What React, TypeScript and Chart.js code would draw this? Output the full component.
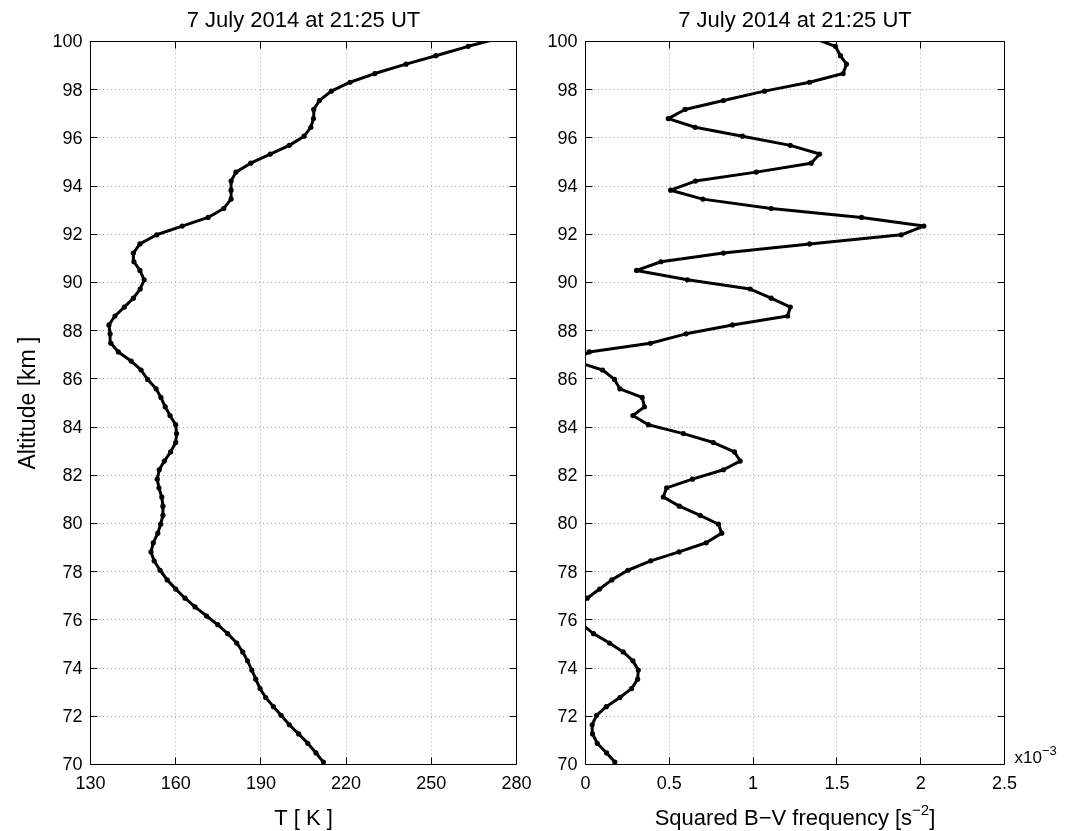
import React, { useEffect, useRef } from 'react';
import { Chart, registerables } from 'chart.js';

Chart.register(...registerables);

const W = 1081;
const H = 831;
const FONT = '"Liberation Sans", Arial, Helvetica, sans-serif';

// ---- text ----
const titleText = '7 July 2014 at 21:25 UT';
const yAxisLabel = 'Altitude [km ]';
const tempAxisLabel = 'T [ K ]';
const bvAxisMain = 'Squared B\u2212V frequency [s';
const bvAxisSup = '\u22122';
const bvAxisTail = ']';
const bvExpBase = 'x10';
const bvExpSup = '\u22123';

// ---- axis ranges / ticks ----
const altitudeRange = [70, 100];
const altitudeStep = 2;
const tempRange = [130, 280];
const tempStep = 30;
const bvRange = [0, 2.5]; // in units of 1e-3 s^-2
const bvStep = 0.5;

// ---- data (altitude grid, km) ----
const altitudeKm = [
  70.10, 70.48, 70.88, 71.27, 71.65, 72.04, 72.40, 72.78, 73.15, 73.54,
  73.92, 74.30, 74.67, 75.04, 75.43, 75.80, 76.16, 76.54, 76.90, 77.28,
  77.66, 78.06, 78.45, 78.82, 79.20, 79.60, 79.97, 80.34, 80.72, 81.10,
  81.48, 81.84, 82.23, 82.59, 82.97, 83.36, 83.73, 84.10, 84.48, 84.84,
  85.23, 85.59, 85.98, 86.37, 86.74, 87.12, 87.48, 87.87, 88.24, 88.61,
  88.98, 89.35, 89.73, 90.11, 90.50, 90.86, 91.22, 91.60, 91.98, 92.34,
  92.70, 93.07, 93.46, 93.83, 94.21, 94.58, 94.95, 95.33, 95.69, 96.07,
  96.44, 96.80, 97.18, 97.55, 97.94, 98.31, 98.67, 99.06, 99.41, 99.80,
  100.17,
];

// Temperature, K
const temperatureK = [
  212.0, 209.4, 206.5, 203.3, 200.0, 197.1, 194.4, 191.7, 189.7, 188.2,
  186.8, 185.3, 183.6, 181.5, 178.3, 174.8, 170.9, 166.8, 163.3, 160.0,
  157.0, 154.5, 152.4, 151.3, 152.1, 153.7, 154.7, 155.5, 155.5, 155.1,
  154.1, 153.5, 154.2, 156.0, 158.2, 160.0, 160.3, 160.0, 158.0, 156.3,
  154.8, 153.1, 150.1, 147.8, 144.3, 139.8, 137.2, 136.9, 136.5, 138.6,
  141.9, 145.1, 147.5, 148.9, 147.4, 145.3, 145.1, 147.4, 153.3, 162.3,
  171.4, 176.9, 179.5, 179.5, 179.5, 181.2, 186.4, 193.3, 200.0, 205.2,
  207.6, 208.5, 208.6, 210.6, 214.8, 221.4, 230.1, 241.1, 251.6, 263.0,
  275.0,
];

// Squared Brunt-Vaisala frequency, units of 1e-3 s^-2
const bvFreqSqE3 = [
  0.175, 0.126, 0.070, 0.042, 0.040, 0.066, 0.124, 0.205, 0.275, 0.311,
  0.315, 0.283, 0.225, 0.143, 0.048, -0.020, -0.080, -0.060, 0.010, 0.084,
  0.157, 0.253, 0.389, 0.558, 0.720, 0.813, 0.793, 0.684, 0.560, 0.464,
  0.484, 0.638, 0.823, 0.923, 0.889, 0.763, 0.584, 0.375, 0.283, 0.352,
  0.338, 0.205, 0.173, 0.102, -0.070, 0.022, 0.387, 0.600, 0.877, 1.206,
  1.222, 1.108, 0.983, 0.608, 0.305, 0.450, 0.823, 1.337, 1.884, 2.019,
  1.647, 1.108, 0.700, 0.508, 0.656, 1.019, 1.346, 1.397, 1.222, 0.937,
  0.654, 0.494, 0.594, 0.823, 1.068, 1.337, 1.537, 1.557, 1.521, 1.491,
  1.350,
];

function setFont(ctx: CanvasRenderingContext2D, size: number) {
  ctx.font = `${size}px ${FONT}`;
}

function txt(
  ctx: CanvasRenderingContext2D,
  s: string,
  x: number,
  y: number,
  size: number,
  align: CanvasTextAlign = 'left',
  baseline: CanvasTextBaseline = 'alphabetic'
) {
  setFont(ctx, size);
  ctx.textAlign = align;
  ctx.textBaseline = baseline;
  ctx.fillText(s, x, y);
}

type Extra = (ctx: CanvasRenderingContext2D, area: any) => void;

function makeFramePlugin(id: string, extra: Extra) {
  return {
    id,
    afterDraw(chart: any) {
      const ctx: CanvasRenderingContext2D = chart.ctx;
      const a = chart.chartArea;
      const xs = chart.scales.x;
      const ys = chart.scales.y;
      const TL = 7;
      ctx.save();
      ctx.strokeStyle = '#000';
      ctx.lineWidth = 1;
      ctx.setLineDash([]);
      ctx.beginPath();
      ctx.rect(a.left, a.top, a.right - a.left, a.bottom - a.top);
      for (const t of xs.ticks) {
        const x = Math.round(xs.getPixelForValue(t.value) - 0.5) + 0.5;
        ctx.moveTo(x, a.bottom);
        ctx.lineTo(x, a.bottom - TL);
        ctx.moveTo(x, a.top);
        ctx.lineTo(x, a.top + TL);
      }
      for (const t of ys.ticks) {
        const y = Math.round(ys.getPixelForValue(t.value) - 0.5) + 0.5;
        ctx.moveTo(a.left, y);
        ctx.lineTo(a.left + TL, y);
        ctx.moveTo(a.right, y);
        ctx.lineTo(a.right - TL, y);
      }
      ctx.stroke();

      ctx.fillStyle = '#000';
      for (const t of xs.ticks) {
        txt(ctx, String(t.label), xs.getPixelForValue(t.value), a.bottom + 24.5, 18, 'center');
      }
      for (const t of ys.ticks) {
        txt(ctx, String(t.label), a.left - 8, ys.getPixelForValue(t.value) + 1, 18, 'right', 'middle');
      }
      txt(ctx, titleText, (a.left + a.right) / 2, 27, 22, 'center');
      extra(ctx, a);
      ctx.restore();
    },
  };
}

function baseOptions(xMin: number, xMax: number, xStep: number, left: number, right: number) {
  return {
    responsive: false,
    animation: false as const,
    events: [] as any[],
    layout: { padding: { left: 0, top: 41.5, right: W - right, bottom: 0 } },
    plugins: {
      legend: { display: false },
      tooltip: { enabled: false },
      title: { display: false },
    },
    scales: {
      x: {
        type: 'linear' as const,
        position: 'bottom' as const,
        min: xMin,
        max: xMax,
        ticks: { stepSize: xStep, display: false, callback: (v: any) => String(Number(v)) },
        grid: { drawTicks: false, color: '#a0a0a0', lineWidth: 1 },
        border: { display: false, dash: [1, 3] },
        afterFit: (s: any) => {
          s.height = 66.5;
        },
      },
      y: {
        type: 'linear' as const,
        position: 'left' as const,
        min: altitudeRange[0],
        max: altitudeRange[1],
        ticks: { stepSize: altitudeStep, display: false, callback: (v: any) => String(Number(v)) },
        grid: { drawTicks: false, color: '#a0a0a0', lineWidth: 1 },
        border: { display: false, dash: [1, 3] },
        afterFit: (s: any) => {
          s.width = left;
        },
      },
    },
  };
}

function profileDataset(values: number[]) {
  return {
    data: altitudeKm.map((alt, i) => ({ x: values[i], y: alt })),
    showLine: true,
    borderColor: '#000',
    backgroundColor: '#000',
    borderWidth: 3,
    borderJoinStyle: 'round' as const,
    borderCapStyle: 'round' as const,
    pointRadius: 2.6,
    pointBorderWidth: 0,
    pointBackgroundColor: '#000',
    tension: 0,
    clip: 0,
  };
}

export default function App() {
  const leftRef = useRef<HTMLCanvasElement | null>(null);
  const rightRef = useRef<HTMLCanvasElement | null>(null);

  useEffect(() => {
    document.body.style.margin = '0';
    const leftPlugin = makeFramePlugin('frameLeft', (ctx, a) => {
      txt(ctx, tempAxisLabel, (a.left + a.right) / 2, 825, 22, 'center');
      ctx.save();
      ctx.translate(35, (a.top + a.bottom) / 2);
      ctx.rotate(-Math.PI / 2);
      txt(ctx, yAxisLabel, 0, 0, 23, 'center');
      ctx.restore();
    });
    const rightPlugin = makeFramePlugin('frameRight', (ctx, a) => {
      setFont(ctx, 22);
      const w1 = ctx.measureText(bvAxisMain).width;
      const w3 = ctx.measureText(bvAxisTail).width;
      setFont(ctx, 15);
      const w2 = ctx.measureText(bvAxisSup).width;
      const total = w1 + w2 + w3;
      const x0 = (a.left + a.right) / 2 - total / 2;
      txt(ctx, bvAxisMain, x0, 825, 22, 'left');
      txt(ctx, bvAxisSup, x0 + w1, 815, 15, 'left');
      txt(ctx, bvAxisTail, x0 + w1 + w2, 825, 22, 'left');
      setFont(ctx, 17);
      const we = ctx.measureText(bvExpBase).width;
      txt(ctx, bvExpBase, a.right + 10, 763, 17, 'left');
      txt(ctx, bvExpSup, a.right + 10 + we, 755, 13, 'left');
    });

    const left = new Chart(leftRef.current as HTMLCanvasElement, {
      type: 'scatter',
      data: { datasets: [profileDataset(temperatureK)] },
      options: baseOptions(tempRange[0], tempRange[1], tempStep, 90.5, 516.5) as any,
      plugins: [leftPlugin],
    });
    const right = new Chart(rightRef.current as HTMLCanvasElement, {
      type: 'scatter',
      data: { datasets: [profileDataset(bvFreqSqE3)] },
      options: baseOptions(bvRange[0], bvRange[1], bvStep, 585.5, 1004.5) as any,
      plugins: [rightPlugin],
    });
    return () => {
      left.destroy();
      right.destroy();
    };
  }, []);

  return (
    <div style={{ position: 'fixed', left: 0, top: 0, width: W, height: H, background: '#fff' }}>
      <canvas ref={leftRef} width={W} height={H} style={{ position: 'absolute', left: 0, top: 0 }} />
      <canvas ref={rightRef} width={W} height={H} style={{ position: 'absolute', left: 0, top: 0 }} />
    </div>
  );
}
